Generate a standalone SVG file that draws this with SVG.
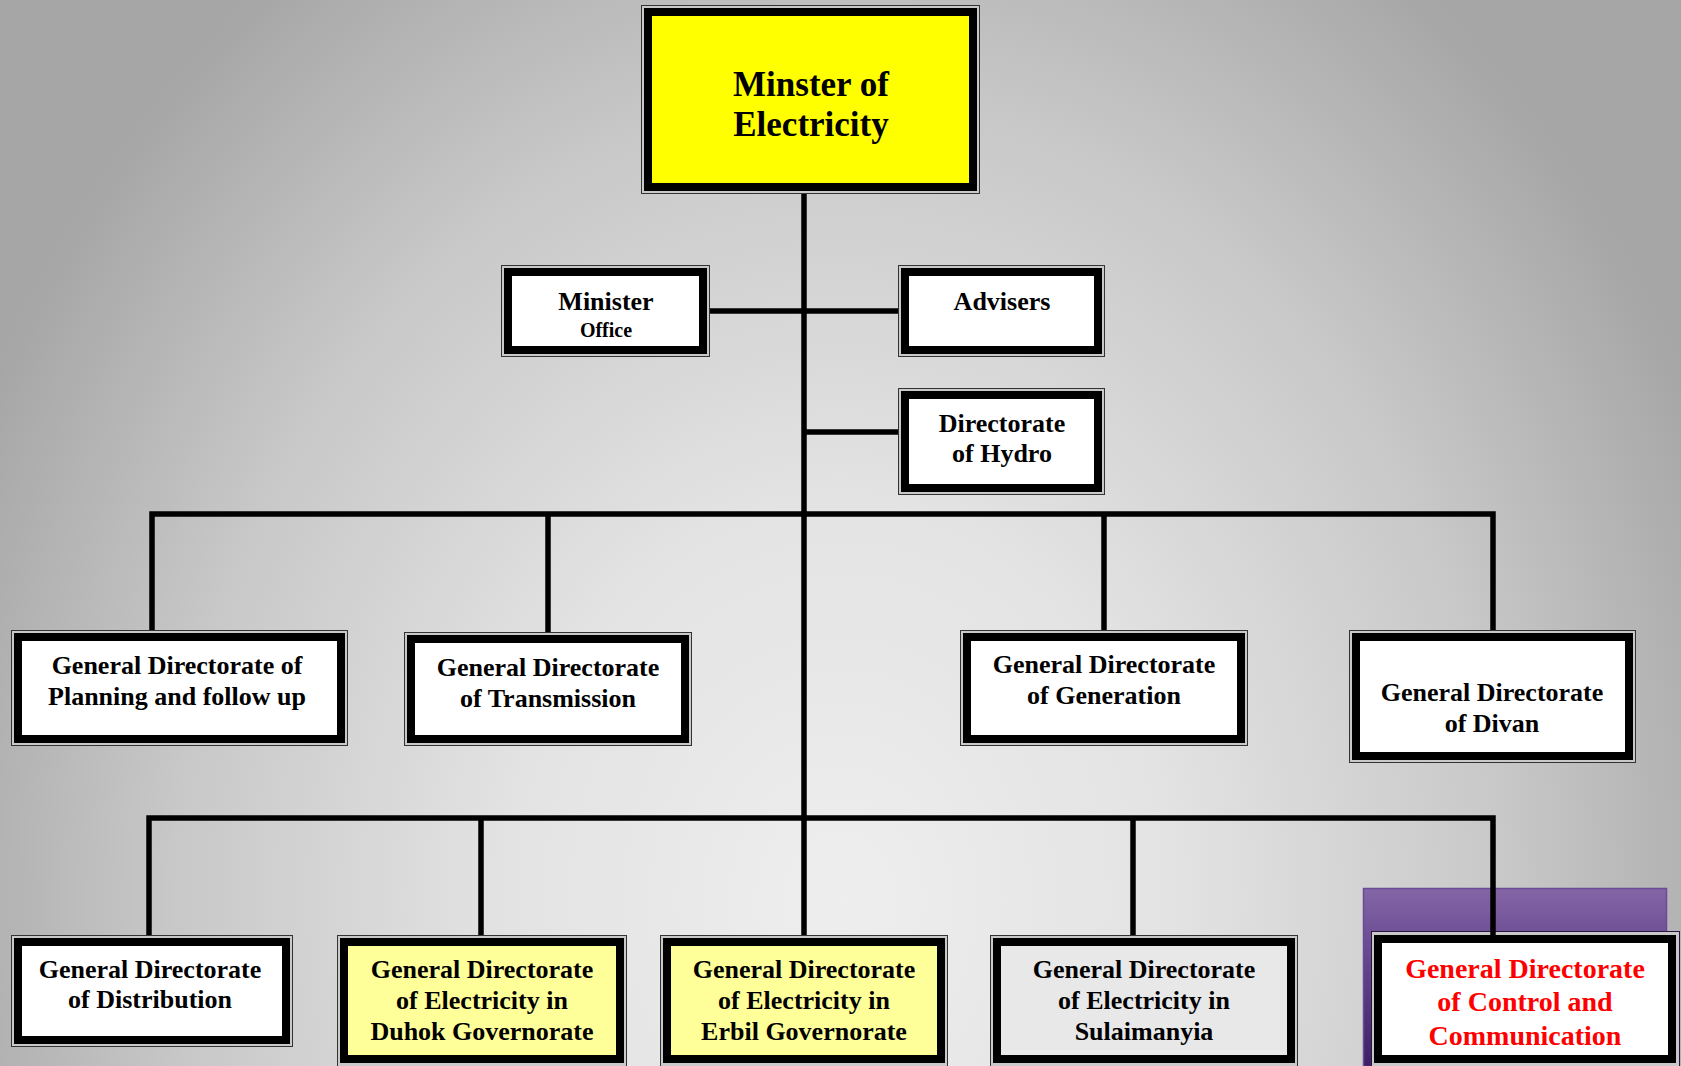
<svg xmlns="http://www.w3.org/2000/svg" width="1681" height="1066" viewBox="0 0 1681 1066">
<defs>
<radialGradient id="bg" gradientUnits="userSpaceOnUse" cx="840" cy="900" r="1000" gradientTransform="translate(840 900) scale(0.95 1.15) translate(-840 -900)">
<stop offset="0" stop-color="#EEEEEE"/>
<stop offset="0.35" stop-color="#E3E3E3"/>
<stop offset="0.7" stop-color="#C8C8C8"/>
<stop offset="1" stop-color="#A6A6A6"/>
</radialGradient>
<linearGradient id="purp" x1="0" y1="0" x2="0" y2="1">
<stop offset="0" stop-color="#8466A6"/>
<stop offset="0.3" stop-color="#6C4C94"/>
<stop offset="1" stop-color="#3E1F63"/>
</linearGradient>
<style>
.frame{fill:#C9C9C9;stroke:#333333;stroke-width:1}
.bord{stroke:#000000;stroke-width:8}
.t{font-family:"Liberation Serif","Times New Roman",serif;font-weight:bold;font-size:26px;fill:#000000;text-anchor:middle}
.big{font-size:35px}
.sm{font-size:20px}
.red{fill:#FF0000;font-size:28px}
.ln{stroke:#000000;stroke-width:5.5;fill:none}
</style>
</defs>
<rect x="0" y="0" width="1681" height="1066" fill="url(#bg)"/>
<rect id="purple-bg" x="1363.5" y="888.5" width="303" height="178" fill="url(#purp)" stroke="#6A4B94" stroke-width="1.5"/>

<g id="connectors">
<line class="ln" x1="804" y1="194" x2="804" y2="935"/>
<line class="ln" x1="710" y1="311" x2="898" y2="311"/>
<line class="ln" x1="804" y1="432" x2="898" y2="432"/>
<polyline class="ln" points="152,630 152,514 1493,514 1493,630"/>
<line class="ln" x1="548" y1="514" x2="548" y2="632"/>
<line class="ln" x1="1104" y1="514" x2="1104" y2="630"/>
<polyline class="ln" points="149,935 149,818 1493,818 1493,931"/>
<line class="ln" x1="481" y1="818" x2="481" y2="935"/>
<line class="ln" x1="1133" y1="818" x2="1133" y2="935"/>
</g>

<g id="minister">
<rect class="frame" x="641.5" y="5.5" width="338" height="188"/>
<rect class="bord" x="648" y="12" width="325" height="175" fill="#FFFF00"/>
<text class="t big" x="811" y="96">Minster of</text>
<text class="t big" x="811" y="136">Electricity</text>
</g>

<g id="minister-office">
<rect class="frame" x="501.5" y="265.5" width="208" height="91"/>
<rect class="bord" x="508" y="272" width="195" height="78" fill="#FFFFFF"/>
<text class="t" x="606" y="310">Minister</text>
<text class="t sm" x="606" y="337">Office</text>
</g>

<g id="advisers">
<rect class="frame" x="898.5" y="265.5" width="206" height="91"/>
<rect class="bord" x="905" y="272" width="193" height="78" fill="#FFFFFF"/>
<text class="t" x="1002" y="310">Advisers</text>
</g>

<g id="hydro">
<rect class="frame" x="898.5" y="388.5" width="206" height="106"/>
<rect class="bord" x="905" y="395" width="193" height="93" fill="#FFFFFF"/>
<text class="t" x="1002" y="432">Directorate</text>
<text class="t" x="1002" y="462">of Hydro</text>
</g>

<g id="planning">
<rect class="frame" x="11.5" y="630.5" width="336" height="115"/>
<rect class="bord" x="18" y="637" width="323" height="102" fill="#FFFFFF"/>
<text class="t" x="177" y="674">General Directorate of</text>
<text class="t" x="177" y="705">Planning and follow up</text>
</g>

<g id="transmission">
<rect class="frame" x="404.5" y="632.5" width="287" height="113"/>
<rect class="bord" x="411" y="639" width="274" height="100" fill="#FFFFFF"/>
<text class="t" x="548" y="676">General Directorate</text>
<text class="t" x="548" y="707">of Transmission</text>
</g>

<g id="generation">
<rect class="frame" x="960.5" y="630.5" width="287" height="115"/>
<rect class="bord" x="967" y="637" width="274" height="102" fill="#FFFFFF"/>
<text class="t" x="1104" y="673">General Directorate</text>
<text class="t" x="1104" y="704">of Generation</text>
</g>

<g id="divan">
<rect class="frame" x="1349.5" y="630.5" width="286" height="132"/>
<rect class="bord" x="1356" y="637" width="273" height="119" fill="#FFFFFF"/>
<text class="t" x="1492" y="701">General Directorate</text>
<text class="t" x="1492" y="732">of Divan</text>
</g>

<g id="distribution">
<rect class="frame" x="11.5" y="935.5" width="281" height="111"/>
<rect class="bord" x="18" y="942" width="268" height="98" fill="#FFFFFF"/>
<text class="t" x="150" y="978">General Directorate</text>
<text class="t" x="150" y="1008">of Distribution</text>
</g>

<g id="duhok">
<rect class="frame" x="337.5" y="935.5" width="289" height="131"/>
<rect class="bord" x="344" y="942" width="276" height="117" fill="#FFFF99"/>
<text class="t" x="482" y="978">General Directorate</text>
<text class="t" x="482" y="1009">of Electricity in</text>
<text class="t" x="482" y="1040">Duhok Governorate</text>
</g>

<g id="erbil">
<rect class="frame" x="660.5" y="935.5" width="287" height="131"/>
<rect class="bord" x="667" y="942" width="274" height="117" fill="#FFFF99"/>
<text class="t" x="804" y="978">General Directorate</text>
<text class="t" x="804" y="1009">of Electricity in</text>
<text class="t" x="804" y="1040">Erbil Governorate</text>
</g>

<g id="sulaimanyia">
<rect class="frame" x="990.5" y="935.5" width="307" height="131"/>
<rect class="bord" x="997" y="942" width="294" height="117" fill="#E8E8E8"/>
<text class="t" x="1144" y="978">General Directorate</text>
<text class="t" x="1144" y="1009">of Electricity in</text>
<text class="t" x="1144" y="1040">Sulaimanyia</text>
</g>

<g id="control">
<rect x="1371.5" y="931.5" width="308" height="135" fill="#C9C9C9" stroke="#2A1540" stroke-width="1"/>
<rect class="bord" x="1378" y="939" width="294" height="120" fill="#FFFFFF"/>
<line class="ln" x1="1493" y1="931" x2="1493" y2="935"/>
<text class="t red" x="1525" y="978">General Directorate</text>
<text class="t red" x="1525" y="1011">of Control and</text>
<text class="t red" x="1525" y="1045">Communication</text>
</g>
</svg>
